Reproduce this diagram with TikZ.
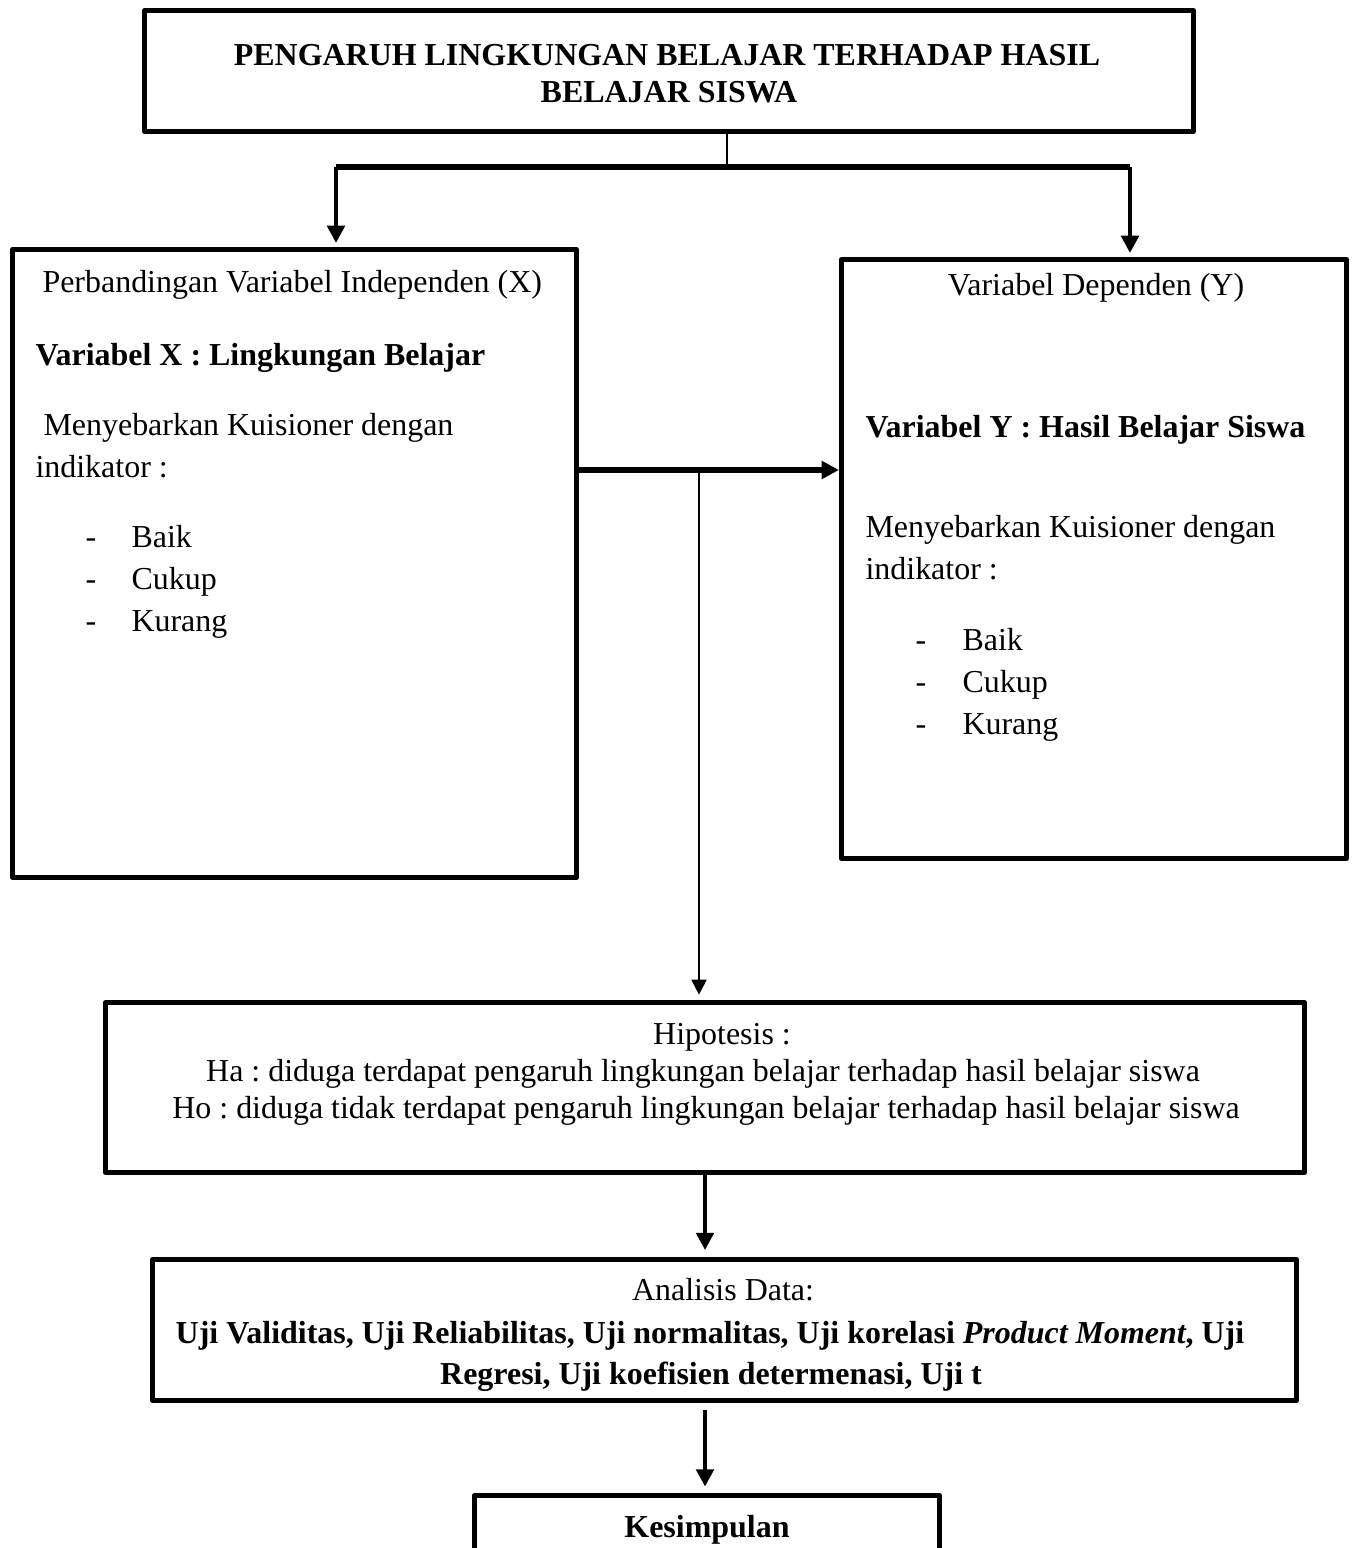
\documentclass[tikz,border=0pt]{standalone}
\usepackage{fontspec}
\setmainfont{Liberation Serif}
\usetikzlibrary{arrows.meta,fit,positioning}
\tikzset{%
	box/.style     = {draw, line width = 1.9pt, line join = round, rectangle, inner sep = 0pt}, % Frame
	txt/.style     = {inner sep = 0pt, anchor = base west, font = \fontsize{12}{14}\selectfont}, % Left aligned line
	ctxt/.style    = {inner sep = 0pt, anchor = base, font = \fontsize{12}{14}\selectfont}, % Centred line
	bar/.style     = {line width = 1.9pt},
	arr/.style     = {line width = 1.8pt, -{Triangle[length = 6.5pt, width = 6.5pt]}},
	thinarr/.style = {line width = 0.75pt, -{Triangle[length = 5.6pt, width = 5.6pt]}}
}

\begin{document}
\frenchspacing
\begin{tikzpicture}[x = 0.3756pt, y = -0.3756pt]
	\useasboundingbox (0,0) rectangle (1352,1548);
	\clip (0,0) rectangle (1352,1548);

	% Drawing the frames
	\node [box, fit = {(144.5,10.5) (1193.5,131.5)}] (title) {};
	\node [box, fit = {(12.5,249.5) (576.5,877.5)}] (left) {};
	\node [box, fit = {(841.5,259.5) (1346.5,858.5)}] (right) {};
	\node [box, fit = {(105.5,1002.5) (1304.5,1172.5)}] (hyp) {};
	\node [box, fit = {(152.5,1259.5) (1296.5,1400.5)}] (ana) {};
	\node [box, fit = {(474.5,1495.5) (939.5,1640)}] (kes) {};

	% Drawing the texts
	\draw
	node at (667,65) [ctxt] (t1) {\textbf{PENGARUH LINGKUNGAN BELAJAR TERHADAP HASIL}}
	node at (669,102) [ctxt] (t2) {\textbf{BELAJAR SISWA}}
	node at (42,292) [txt] (xhead) {Perbandingan Variabel Independen (X)}
	node at (35,365) [txt] (xvar) {\textbf{Variabel X : Lingkungan Belajar}}
	node at (43,435) [txt] (xkui) {Menyebarkan Kuisioner dengan}
	node at (35,477) [txt] (xind) {indikator :}
	node at (85,547) [txt] (xd1) {-}
	node at (85,589) [txt] (xd2) {-}
	node at (85,631) [txt] (xd3) {-}
	node at (131,547) [txt] (xbaik) {Baik}
	node at (131,589) [txt] (xcukup) {Cukup}
	node at (131,631) [txt] (xkurang) {Kurang}
	node at (1096,295) [ctxt] (yhead) {Variabel Dependen (Y)}
	node at (865,437) [txt] (yvar) {\textbf{Variabel Y : Hasil Belajar Siswa}}
	node at (865,537) [txt] (ykui) {Menyebarkan Kuisioner dengan}
	node at (865,579) [txt] (yind) {indikator :}
	node at (915,650) [txt] (yd1) {-}
	node at (915,692) [txt] (yd2) {-}
	node at (915,734) [txt] (yd3) {-}
	node at (962,650) [txt] (ybaik) {Baik}
	node at (962,692) [txt] (ycukup) {Cukup}
	node at (962,734) [txt] (ykurang) {Kurang}
	node at (722,1044) [ctxt] (h0) {Hipotesis :}
	node at (703,1081) [ctxt] (h1) {Ha : diduga terdapat pengaruh lingkungan belajar terhadap hasil belajar siswa}
	node at (706,1118) [ctxt] (h2) {Ho : diduga tidak terdapat pengaruh lingkungan belajar terhadap hasil belajar siswa}
	node at (723,1300) [ctxt] (a0) {Analisis Data:}
	node at (710,1343) [ctxt] (a1) {\textbf{Uji Validitas, Uji Reliabilitas, Uji normalitas, Uji korelasi \textit{Product Moment}, Uji}}
	node at (711,1384) [ctxt] (a2) {\textbf{Regresi, Uji koefisien determenasi, Uji t}}
	node at (707,1537) [ctxt] (k0) {\textbf{Kesimpulan}}
	;

	% Drawing the arrows
	\coordinate (split) at (727,167);
	\coordinate (lx) at (336,167);
	\coordinate (rx) at (1130,167);
	\coordinate (hx) at (576.5,470);
	\coordinate (tap) at (699,473);
	\coordinate (dn) at (705,1175);
	\draw[line width = 1.1pt] (title.south -| split) -- (split);
	\draw[bar] (lx) -- (rx);
	\draw[arr, shorten > = 1.5pt] (lx) -- (lx |- left.north);
	\draw[arr, shorten > = 1.5pt] (rx) -- (rx |- right.north);
	\draw[arr, line width = 2.2pt] (hx) -- (hx -| right.west);
	\draw[thinarr, shorten > = 2pt] (tap) -- (tap |- hyp.north);
	\draw[arr, shorten > = 2.6pt] (hyp.south -| dn) -- (ana.north -| dn);
	\draw[arr, shorten < = 2.6pt, shorten > = 2.4pt] (ana.south -| dn) -- (kes.north -| dn);
\end{tikzpicture}
\end{document}
